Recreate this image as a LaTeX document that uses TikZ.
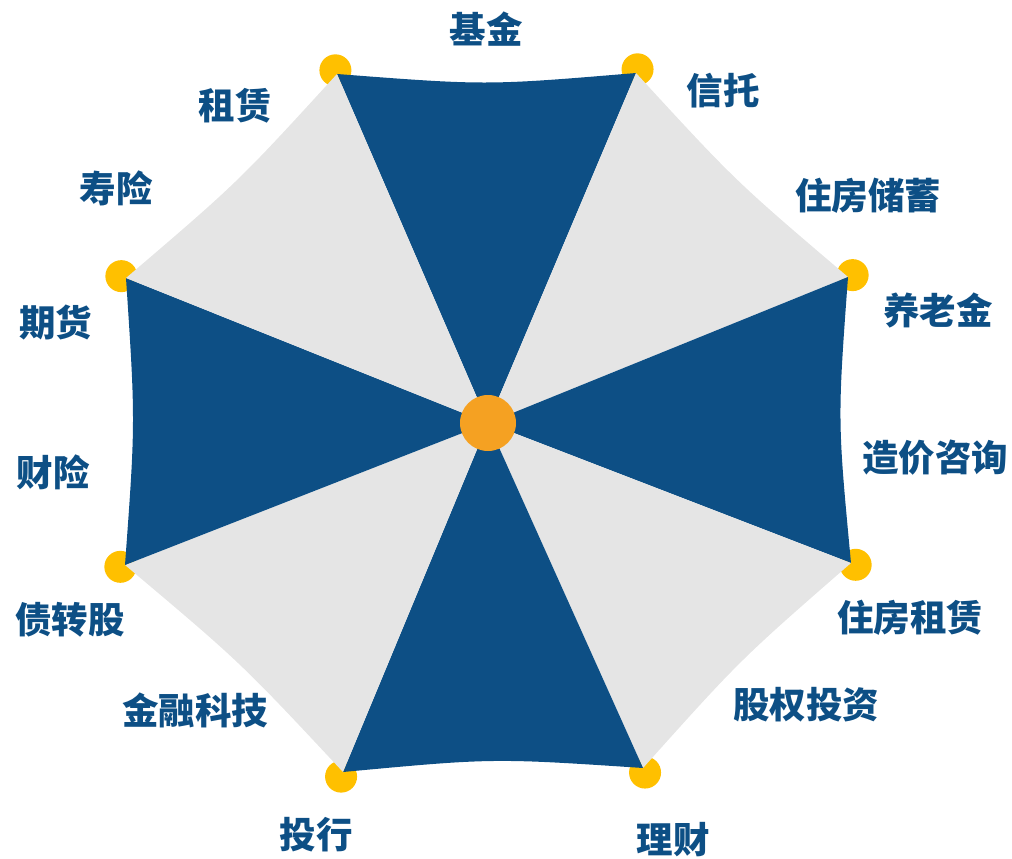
\documentclass[tikz,border=0pt]{standalone}
\usepackage{fontspec}
\usepackage{tikz}
\usetikzlibrary{calc}
\newfontfamily\cjk{Noto Sans CJK SC}
\definecolor{azul}{HTML}{0D4F85}
\definecolor{gris}{HTML}{E5E5E5}
\definecolor{amarillo}{HTML}{FFC000}
\definecolor{naranja}{HTML}{F5A122}
\tikzstyle{etiqueta} = [text=azul, font=\cjk\bfseries\fontsize{36.5}{40}\selectfont, inner sep=0pt]
\tikzstyle{gajoazul} = [fill=azul]
\tikzstyle{gajogris} = [fill=gris]
\tikzstyle{punta} = [fill=amarillo]

\begin{document}
\begin{tikzpicture}[x=1pt,y=-1pt]
		\useasboundingbox (0,0) rectangle (1012,859);
		\coordinate (O) at (488,423);
		\coordinate (v1) at (337,74);
		\coordinate (v2) at (636,73);
		\coordinate (v3) at (848,277);
		\coordinate (v4) at (851,563);
		\coordinate (v5) at (643,768);
		\coordinate (v6) at (343,772);
		\coordinate (v7) at (125,565);
		\coordinate (v8) at (126,278);
		% puntas
		\fill[punta] ($(v1)!-4pt!(O)$) circle (16pt);
		\fill[punta] ($(v2)!-4pt!(O)$) circle (16pt);
		\fill[punta] ($(v3)!-5pt!(O)$) circle (16pt);
		\fill[punta] ($(v4)!-5pt!(O)$) circle (16pt);
		\fill[punta] ($(v5)!-5pt!(O)$) circle (16pt);
		\fill[punta] ($(v6)!-5pt!(O)$) circle (16pt);
		\fill[punta] ($(v7)!-5pt!(O)$) circle (16pt);
		\fill[punta] ($(v8)!-5pt!(O)$) circle (16pt);
		% gajos
		\fill[gajoazul] (O) -- (v1) .. controls ($(v1)!0.5!(v2)!12pt!(O)$) .. (v2) -- cycle;
		\fill[gajogris] (O) -- (v2) .. controls ($(v2)!0.5!(v3)!9pt!(O)$) .. (v3) -- cycle;
		\fill[gajoazul] (O) -- (v3) .. controls ($(v3)!0.5!(v4)!12pt!(O)$) .. (v4) -- cycle;
		\fill[gajogris] (O) -- (v4) .. controls ($(v4)!0.5!(v5)!9pt!(O)$) .. (v5) -- cycle;
		\fill[gajoazul] (O) -- (v5) .. controls ($(v5)!0.5!(v6)!12pt!(O)$) .. (v6) -- cycle;
		\fill[gajogris] (O) -- (v6) .. controls ($(v6)!0.5!(v7)!9pt!(O)$) .. (v7) -- cycle;
		\fill[gajoazul] (O) -- (v7) .. controls ($(v7)!0.5!(v8)!10pt!(O)$) .. (v8) -- cycle;
		\fill[gajogris] (O) -- (v8) .. controls ($(v8)!0.5!(v1)!9pt!(O)$) .. (v1) -- cycle;
		\fill[naranja] (O) circle (28pt);
		% etiquetas
		\node[etiqueta] (jijin) at (486,29) {基金};
		\node[etiqueta] (xintuo) at (723,91) {信托};
		\node[etiqueta] (zhuchu) at (868,196) {住房储蓄};
		\node[etiqueta] (yanglao) at (938,310) {养老金};
		\node[etiqueta] (zaojia) at (935,458) {造价咨询};
		\node[etiqueta] (zhuzu) at (910,618) {住房租赁};
		\node[etiqueta] (guquan) at (806,705) {股权投资};
		\node[etiqueta] (licai) at (673,840) {理财};
		\node[etiqueta] (touhang) at (316,835) {投行};
		\node[etiqueta] (jinrong) at (195,710) {金融科技};
		\node[etiqueta] (zhaizhuan) at (70,620) {债转股};
		\node[etiqueta] (caixian) at (53,472) {财险};
		\node[etiqueta] (qihuo) at (56,322) {期货};
		\node[etiqueta] (shouxian) at (116,188) {寿险};
		\node[etiqueta] (zulin) at (235,106) {租赁};
	\end{tikzpicture}
\end{document}
